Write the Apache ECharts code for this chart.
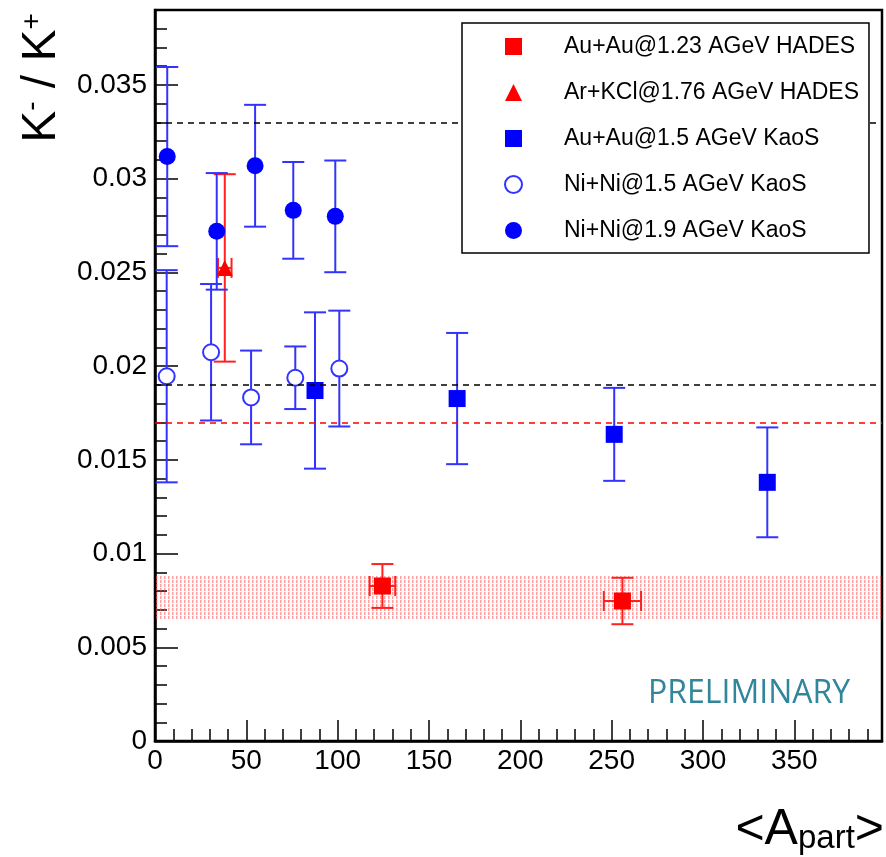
<!DOCTYPE html>
<html>
<head>
<meta charset="utf-8">
<script src="https://cdn.jsdelivr.net/npm/echarts@6/dist/echarts.min.js"></script>
<style>
  html, body { margin: 0; padding: 0; background: #fff; }
  #chart { width: 886px; height: 857px; }
</style>
</head>
<body>
<div id="chart"></div>
<script>
// Au+Au@1.23 AGeV HADES
const hadesAuX = [124.5, 255.9];
const hadesAuY = [0.00827, 0.00747];
const hadesAuErr = [0.00117, 0.00124];
const hadesAuXErr = [7, 10.2];

// Ar+KCl@1.76 AGeV HADES
const hadesArX = [38.2];
const hadesArY = [0.02524];
const hadesArErr = [0.005];
const hadesArXErr = [3.7];

// Au+Au@1.5 AGeV KaoS
const kaosAuX = [87.6, 165.4, 251.4, 335.2];
const kaosAuY = [0.0187, 0.01827, 0.01636, 0.0138];
const kaosAuErr = [0.00417, 0.0035, 0.00248, 0.00293];

// Ni+Ni@1.5 AGeV KaoS
const ni15X = [6.4, 30.7, 52.6, 76.8, 100.9];
const ni15Y = [0.01946, 0.02074, 0.01833, 0.01938, 0.01987];
const ni15Err = [0.00566, 0.00364, 0.0025, 0.00167, 0.00309];

// Ni+Ni@1.9 AGeV KaoS
const ni19X = [6.7, 33.8, 54.8, 75.7, 98.7];
const ni19Y = [0.03118, 0.02719, 0.03069, 0.02831, 0.02799];
const ni19Err = [0.00478, 0.00311, 0.00325, 0.00258, 0.00298];

// reference lines and HADES band
const blackLines = [0.033, 0.019];
const redLines = [0.017];
const bandLow = 0.00648;
const bandHigh = 0.00884;

const names = [
  'Au+Au@1.23 AGeV HADES',
  'Ar+KCl@1.76 AGeV HADES',
  'Au+Au@1.5 AGeV KaoS',
  'Ni+Ni@1.5 AGeV KaoS',
  'Ni+Ni@1.9 AGeV KaoS'
];

const BLUE = '#0000ff';
const RED = '#ff0000';
const FONT = 'Liberation Sans';

function pts(xs, ys) {
  return xs.map((x, i) => [x, ys[i]]);
}
function errRows(xs, ys, es, xes) {
  return xs.map((x, i) => [x, ys[i], ys[i] - es[i], ys[i] + es[i], xes ? xes[i] : 0]);
}

function errRender(color) {
  return function (params, api) {
    const x = api.value(0);
    const y = api.value(1);
    const lo = api.coord([x, api.value(2)]);
    const hi = api.coord([x, api.value(3)]);
    const st = { stroke: color, lineWidth: 2 };
    const cap = 11;
    const kids = [
      { type: 'line', shape: { x1: lo[0], y1: lo[1], x2: hi[0], y2: hi[1] }, style: st },
      { type: 'line', shape: { x1: lo[0] - cap, y1: lo[1], x2: lo[0] + cap, y2: lo[1] }, style: st },
      { type: 'line', shape: { x1: hi[0] - cap, y1: hi[1], x2: hi[0] + cap, y2: hi[1] }, style: st }
    ];
    const dx = api.value(4);
    if (dx > 0) {
      const l = api.coord([x - dx, y]);
      const r = api.coord([x + dx, y]);
      kids.push(
        { type: 'line', shape: { x1: l[0], y1: l[1], x2: r[0], y2: r[1] }, style: st },
        { type: 'line', shape: { x1: l[0], y1: l[1] - 10, x2: l[0], y2: l[1] + 10 }, style: st },
        { type: 'line', shape: { x1: r[0], y1: r[1] - 10, x2: r[0], y2: r[1] + 10 }, style: st }
      );
    }
    return { type: 'group', children: kids };
  };
}

// hatch texture for the HADES band
const pat = document.createElement('canvas');
pat.width = 4;
pat.height = 4;
const pctx = pat.getContext('2d');
pctx.fillStyle = 'rgba(255,80,80,0.55)';
pctx.fillRect(0, 0, 1.5, 3);

const dash = [6, 5];

const myChart = echarts.init(document.getElementById('chart'));

const option = {
  animation: false,
  grid: {
    left: 155, right: 4, top: 10, bottom: 116,
    show: true, borderColor: '#000', borderWidth: 2.5, backgroundColor: 'transparent'
  },
  legend: {
    orient: 'vertical',
    left: 462,
    top: 23,
    z: 10,
    padding: [12, 10, 11, 42],
    itemWidth: 17,
    itemHeight: 17,
    itemGap: 23,
    backgroundColor: '#fff',
    borderColor: '#000',
    borderWidth: 1.5,
    data: names,
    textStyle: { fontFamily: FONT, fontSize: 23, color: '#000', padding: [0, 0, 0, 37] }
  },
  xAxis: [
    {
      type: 'value', min: 0, max: 398, interval: 50, position: 'bottom',
      axisLine: { lineStyle: { color: '#000', width: 2.5 } },
      axisTick: { inside: true, length: 21, lineStyle: { color: '#000', width: 1.5 } },
      axisLabel: { fontFamily: FONT, fontSize: 28, color: '#000', margin: 6, showMaxLabel: false },
      splitLine: { show: false }
    },
    {
      type: 'value', min: 0, max: 398, interval: 10, position: 'bottom',
      axisLine: { show: false },
      axisTick: { inside: true, length: 12, lineStyle: { color: '#000', width: 1.5 } },
      axisLabel: { show: false },
      splitLine: { show: false }
    }
  ],
  yAxis: [
    {
      type: 'value', min: 0, max: 0.039, interval: 0.005, position: 'left',
      axisLine: { show: true, lineStyle: { color: '#000', width: 2.5 } },
      axisTick: { show: true, inside: true, length: 23, lineStyle: { color: '#000', width: 1.5 } },
      axisLabel: { fontFamily: FONT, fontSize: 28, color: '#000', margin: 8, showMaxLabel: false },
      splitLine: { show: false }
    },
    {
      type: 'value', min: 0, max: 0.039, interval: 0.001, position: 'left',
      axisLine: { show: false },
      axisTick: { show: true, inside: true, length: 12, lineStyle: { color: '#000', width: 1.5 } },
      axisLabel: { show: false },
      splitLine: { show: false }
    }
  ],
  graphic: [
    {
      type: 'text', x: 42, y: 78, rotation: Math.PI / 2,
      style: {
        text: 'K{sup|-} / K{sup|+}',
        font: '48px "Liberation Sans"',
        fill: '#000', align: 'center', verticalAlign: 'middle',
        rich: { sup: { fontSize: 28, fontFamily: FONT, verticalAlign: 'top', fill: '#000' } }
      }
    },
    {
      type: 'text', x: 884, y: 830,
      style: {
        text: '<A{sub|part}>',
        font: '50px "Liberation Sans"',
        fill: '#000', align: 'right', verticalAlign: 'middle',
        rich: { sub: { fontSize: 33, fontFamily: FONT, verticalAlign: 'bottom', fill: '#000' } }
      }
    },
    {
      type: 'text', x: 648, y: 694,
      style: {
        text: 'PRELIMINARY', font: '32px "Open Sans"', fill: '#31869b',
        align: 'left', verticalAlign: 'middle'
      }
    }
  ],
  series: [
    {
      name: 'lines', type: 'line', data: [], z: 1, silent: true,
      markLine: {
        silent: true, symbol: 'none', precision: 6, label: { show: false },
        data: blackLines.map((v) => ({ yAxis: v, lineStyle: { color: '#000', width: 1.5, type: dash } }))
          .concat(redLines.map((v) => ({ yAxis: v, lineStyle: { color: RED, width: 1.5, type: dash } })))
      }
    },
    {
      name: 'band', type: 'line', data: [], z: 6, silent: true,
      markArea: {
        silent: true,
        itemStyle: { color: { image: pat, repeat: 'repeat' } },
        data: [[{ yAxis: bandLow }, { yAxis: bandHigh }]]
      }
    },
    { name: 'e1', type: 'custom', renderItem: errRender('#ff2020'), data: errRows(hadesAuX, hadesAuY, hadesAuErr, hadesAuXErr), z: 3 },
    { name: 'e2', type: 'custom', renderItem: errRender('#ff2020'), data: errRows(hadesArX, hadesArY, hadesArErr, hadesArXErr), z: 3 },
    { name: 'e3', type: 'custom', renderItem: errRender('#3333ff'), data: errRows(kaosAuX, kaosAuY, kaosAuErr), z: 3 },
    { name: 'e4', type: 'custom', renderItem: errRender('#3333ff'), data: errRows(ni15X, ni15Y, ni15Err), z: 3 },
    { name: 'e5', type: 'custom', renderItem: errRender('#3333ff'), data: errRows(ni19X, ni19Y, ni19Err), z: 3 },
    { name: names[0], type: 'scatter', symbol: 'rect', symbolSize: 17, itemStyle: { color: RED, opacity: 1 }, data: pts(hadesAuX, hadesAuY), z: 4 },
    { name: names[1], type: 'scatter', symbol: 'triangle', symbolSize: 16, itemStyle: { color: RED, opacity: 1 }, data: pts(hadesArX, hadesArY), z: 4 },
    { name: names[2], type: 'scatter', symbol: 'rect', symbolSize: 17, itemStyle: { color: BLUE, opacity: 1 }, data: pts(kaosAuX, kaosAuY), z: 4 },
    { name: names[3], type: 'scatter', symbol: 'circle', symbolSize: 16, itemStyle: { color: '#fff', borderColor: '#3333ff', borderWidth: 2, opacity: 1 }, data: pts(ni15X, ni15Y), z: 4 },
    { name: names[4], type: 'scatter', symbol: 'circle', symbolSize: 17, itemStyle: { color: BLUE, opacity: 1 }, data: pts(ni19X, ni19Y), z: 4 }
  ]
};

myChart.setOption(option);
</script>
</body>
</html>
